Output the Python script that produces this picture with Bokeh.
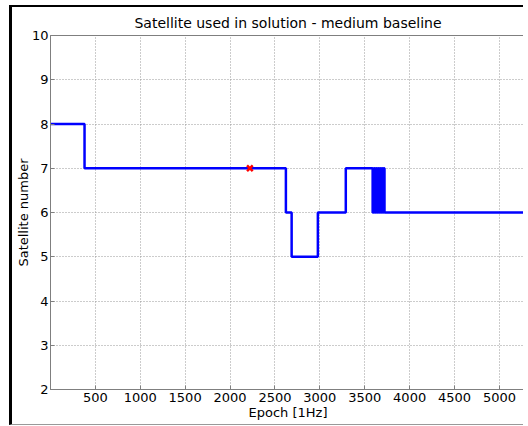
from bokeh.plotting import figure
from bokeh.models import FixedTicker, Range1d
from bokeh.embed import file_html
from bokeh.resources import INLINE

# ---- data ----
step_epoch = [1, 380, 2622, 2686, 2978, 3289, 3588, 3599, 3610, 3621, 3632, 3643,
              3654, 3665, 3676, 3687, 3698, 3709, 3720, 5290]
step_sats = [8, 7, 6, 5, 6, 7, 6, 7, 6, 7, 6, 7,
             6, 7, 6, 7, 6, 7, 6, 6]
mark_epoch = [2221]
mark_sats = [7]
x_ticks = [500, 1000, 1500, 2000, 2500, 3000, 3500, 4000, 4500, 5000]
y_ticks = [2, 3, 4, 5, 6, 7, 8, 9, 10]
title_text = "Satellite used in solution - medium baseline"
x_label = "Epoch [1Hz]"
y_label = "Satellite number"

FONT = "DejaVu Sans"
FS = "13px"

p = figure(width=514, height=420, output_backend="svg", toolbar_location=None,
           x_range=Range1d(1, 5290), y_range=Range1d(2, 10),
           min_border_left=37, min_border_right=1, min_border_top=27, min_border_bottom=38,
           title=title_text)
p.styles = {"border-left": "3px solid black", "border-top": "2px solid black",
            "border-bottom": "1px solid #999999", "margin-left": "9px", "margin-top": "5px"}

p.title.align = "center"
p.title.text_font = FONT
p.title.text_font_size = "14px"
p.title.text_font_style = "normal"
p.title.text_color = "black"
p.title.standoff = 10

p.outline_line_color = "#7f7f7f"
p.outline_line_width = 1
p.background_fill_color = "white"
p.border_fill_color = "white"

for ax in (p.xaxis[0], p.yaxis[0]):
    ax.axis_line_color = "#7f7f7f"
    ax.major_tick_line_color = "#7f7f7f"
    ax.major_tick_in = 4
    ax.major_tick_out = 0
    ax.minor_tick_line_color = None
    ax.major_label_text_font = FONT
    ax.major_label_text_font_size = FS
    ax.major_label_text_color = "black"
    ax.axis_label_text_font = FONT
    ax.axis_label_text_font_size = FS
    ax.axis_label_text_font_style = "normal"
    ax.axis_label_text_color = "black"

p.xaxis.ticker = FixedTicker(ticks=x_ticks)
p.yaxis.ticker = FixedTicker(ticks=y_ticks)
p.xaxis.axis_label = x_label
p.yaxis.axis_label = y_label
p.xaxis.major_label_standoff = 3
p.xaxis.axis_label_standoff = 0
p.yaxis.major_label_standoff = 2
p.yaxis.axis_label_standoff = -2

for g in (p.xgrid[0], p.ygrid[0]):
    g.ticker = FixedTicker(ticks=x_ticks if g is p.xgrid[0] else y_ticks)
    g.grid_line_color = "#999999"
    g.grid_line_dash = "1 2"
    g.grid_line_width = 1

p.step(step_epoch, step_sats, mode="after", line_color="#0000ff", line_width=2.5)
p.scatter(mark_epoch, mark_sats, marker="x", size=8, line_color="#ff0000", line_width=2.5)

open("out.html", "w").write(file_html(p, INLINE))
